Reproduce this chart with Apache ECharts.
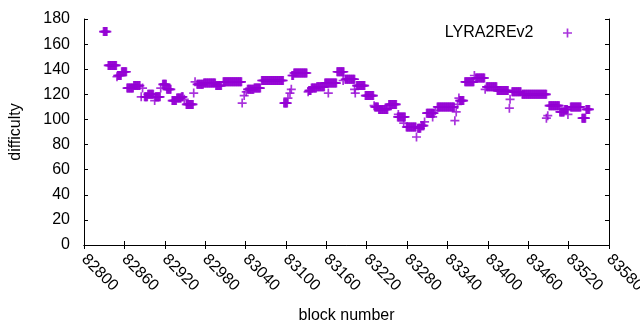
<!DOCTYPE html>
<html>
<head>
<meta charset="utf-8">
<script src="https://cdn.jsdelivr.net/npm/echarts@6/dist/echarts.min.js"></script>
<style>
  html, body { margin: 0; padding: 0; background: #fff; }
  #chart { width: 640px; height: 330px; }
</style>
</head>
<body>
<div id="chart"></div>
<script>
// difficulty holds steady over runs of blocks: first block, last block, value
const runStart = [82829, 82836, 82850, 82856, 82864, 82874, 82890, 82895, 82906, 82917,
  82923, 82931, 82938, 82945, 82952, 82968, 82978, 82996, 83007, 83043,
  83053, 83064, 83097, 83109, 83112, 83134, 83138, 83146, 83158, 83176,
  83188, 83205, 83218, 83232, 83238, 83253, 83266, 83279, 83296, 83301,
  83309, 83325, 83358, 83366, 83382, 83398, 83414, 83436, 83451, 83491,
  83507, 83514, 83523, 83540, 83546];
const runEnd = [82834, 82848, 82855, 82863, 82873, 82883, 82894, 82903, 82913, 82922,
  82929, 82937, 82944, 82947, 82962, 82977, 82995, 83004, 83034, 83052,
  83062, 83096, 83102, 83111, 83131, 83137, 83145, 83157, 83175, 83186,
  83202, 83217, 83230, 83237, 83251, 83264, 83277, 83293, 83300, 83305,
  83320, 83350, 83364, 83379, 83395, 83413, 83430, 83449, 83487, 83506,
  83513, 83518, 83538, 83545, 83551];
const runValue = [170, 143, 135, 138, 125, 127, 118, 120, 118, 128,
  124, 115, 117, 118, 112, 128, 129, 127, 130, 124,
  125, 131, 113, 135, 137, 123, 125, 126, 129, 138,
  132, 127, 119, 110, 108, 112, 102, 94, 93, 95,
  105, 110, 115, 130, 133, 126, 123, 122, 120, 111,
  106, 108, 110, 101, 108];

// lone blocks off the plateaus
const loneBlock = [82849, 82885, 82887, 82905, 82914, 82949, 82963, 82965, 83035, 83038,
  83041, 83103, 83106, 83108, 83133, 83163, 83185, 83202, 83203, 83231,
  83267, 83275, 83294, 83306, 83318, 83322, 83351, 83353, 83355, 83357,
  83380, 83396, 83432, 83433, 83487, 83489, 83519];
const loneValue = [134, 118, 125, 115, 125, 116, 121, 130, 113, 119,
  122, 117, 121, 124, 122, 121, 131, 124, 121, 111,
  104, 97, 86, 98, 102, 107, 99, 106, 112, 117,
  135, 124, 109, 116, 101, 103, 104];

const xMin = 82800;
const xMax = 83580;
const xStep = 60;
const yMin = 0;
const yMax = 180;
const yStep = 20;

const points = [];
runStart.forEach((start, i) => {
  for (let b = start; b <= runEnd[i]; b += 1) {
    points.push([b, runValue[i]]);
  }
});
loneBlock.forEach((b, i) => {
  points.push([b, loneValue[i]]);
});

const font = 'Liberation Sans';
const plus = 'path://M0,3.65h9v1.7h-9z M3.65,0h1.7v9h-1.7z';
const black = { color: '#000', width: 1 };

const chart = echarts.init(document.getElementById('chart'), null, { renderer: 'canvas' });
chart.setOption({
  animation: false,
  backgroundColor: '#fff',
  textStyle: { fontFamily: font, color: '#000' },
  grid: {
    left: 84,
    right: 31,
    top: 19,
    bottom: 85,
    outerBoundsMode: 'none',
  },
  legend: {
    right: 63,
    top: 20,
    align: 'right',
    itemWidth: 58,
    itemHeight: 9,
    icon: plus,
    selectedMode: false,
    textStyle: { fontSize: 16, color: '#000', fontFamily: font },
    data: ['LYRA2REv2'],
  },
  xAxis: [{
    type: 'value',
    position: 'bottom',
    min: xMin,
    max: xMax,
    interval: xStep,
    axisLine: { show: true, lineStyle: black },
    axisTick: { show: true, inside: true, length: 4, lineStyle: black },
    splitLine: { show: false },
    axisLabel: {
      rotate: -45,
      margin: 12,
      fontSize: 16,
      color: '#000',
      fontFamily: font,
      showMinLabel: true,
      showMaxLabel: true,
      formatter: (v) => String(v),
    },
    name: 'block number',
    nameLocation: 'middle',
    nameGap: 63,
    nameTextStyle: { fontSize: 16, color: '#000', fontFamily: font },
  }, {
    type: 'value',
    position: 'top',
    min: xMin,
    max: xMax,
    interval: xStep,
    axisLine: { show: true, lineStyle: black },
    axisTick: { show: true, inside: true, length: 4, lineStyle: black },
    splitLine: { show: false },
    axisLabel: { show: false },
  }],
  yAxis: [{
    type: 'value',
    position: 'left',
    min: yMin,
    max: yMax,
    interval: yStep,
    axisLine: { show: true, lineStyle: black },
    axisTick: { show: true, inside: true, length: 4, lineStyle: black },
    splitLine: { show: false },
    axisLabel: { margin: 14, fontSize: 16, color: '#000', fontFamily: font },
    name: 'difficulty',
    nameLocation: 'middle',
    nameRotate: 90,
    nameGap: 60,
    nameTextStyle: { fontSize: 16, color: '#000', fontFamily: font },
  }, {
    type: 'value',
    position: 'right',
    min: yMin,
    max: yMax,
    interval: yStep,
    axisLine: { show: true, lineStyle: black },
    axisTick: { show: true, inside: true, length: 4, lineStyle: black },
    splitLine: { show: false },
    axisLabel: { show: false },
  }],
  series: [{
    name: 'LYRA2REv2',
    type: 'scatter',
    xAxisIndex: 0,
    yAxisIndex: 0,
    symbol: plus,
    symbolSize: 9,
    itemStyle: { color: '#9400d3' },
    data: points,
  }],
});
</script>
</body>
</html>
